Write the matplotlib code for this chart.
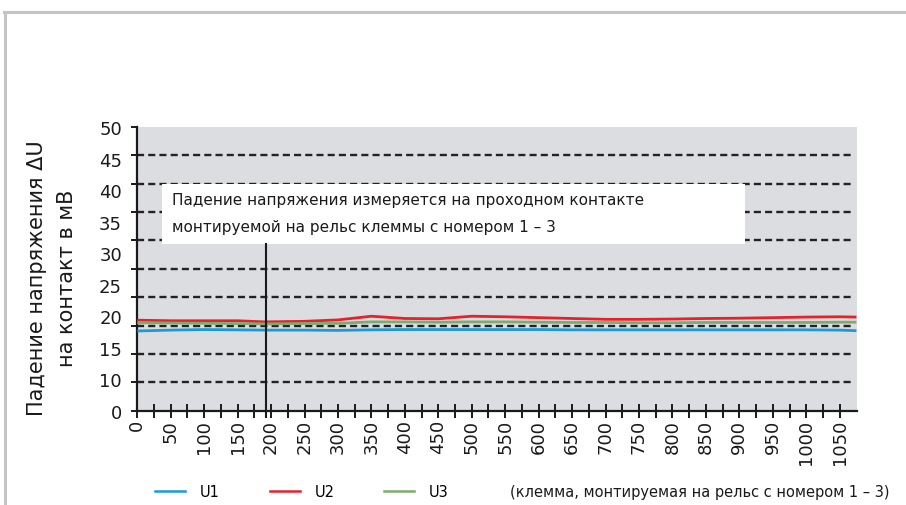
import matplotlib
matplotlib.use("Agg")
import matplotlib.pyplot as plt
from matplotlib.lines import Line2D
from matplotlib.patches import Rectangle

plt.rcParams["font.family"] = ["DejaVu Sans"]

# measured voltage drop per contact, mV (position along the rail)
positions = [0, 50, 100, 150, 190, 250, 300, 350, 400, 450, 500, 550,
             600, 650, 700, 750, 800, 850, 900, 950, 1000, 1050, 1075]
u1 = [14.05, 14.2, 14.3, 14.25, 14.2, 14.2, 14.15, 14.25, 14.3, 14.3, 14.3, 14.3,
      14.3, 14.25, 14.25, 14.25, 14.25, 14.25, 14.25, 14.25, 14.25, 14.2, 14.1]
u2 = [15.95, 15.85, 15.85, 15.85, 15.65, 15.75, 16.0, 16.65, 16.25, 16.2, 16.65, 16.55,
      16.4, 16.25, 16.1, 16.1, 16.15, 16.25, 16.3, 16.4, 16.5, 16.55, 16.5]
u3 = [15.5, 15.45, 15.4, 15.35, 15.3, 15.35, 15.4, 15.65, 15.65, 15.6, 15.65, 15.65,
      15.6, 15.55, 15.55, 15.5, 15.5, 15.55, 15.55, 15.55, 15.55, 15.6, 15.6]

series_names = ["U1", "U2", "U3"]
series_colors = ["#1a9bd7", "#e8202a", "#7dab6f"]

x_labels = list(range(0, 1051, 50))
y_labels = ["0", "10", "15", "20", "25", "30", "35", "40", "45", "50"]

note_lines = ["Падение напряжения измеряется на проходном контакте",
              "монтируемой на рельс клеммы с номером 1 – 3"]
marker_x = 192

fig = plt.figure(figsize=(9.06, 5.06), dpi=100)
ax = fig.add_axes([0.1515, 0.1864, 0.7945, 0.5606])
ax.set_facecolor("#dcdde0")

ax.set_xlim(0, 1076)
ax.set_ylim(0, 50)
ax.xaxis.remove_overlapping_locs = False
ax.yaxis.remove_overlapping_locs = False

for s in ["top", "right"]:
    ax.spines[s].set_visible(False)
for s in ["left", "bottom"]:
    ax.spines[s].set_linewidth(1.6)
    ax.spines[s].set_color("#1a1a1a")

# dashed grid every 5 units
for g in range(5, 50, 5):
    ax.plot([0, 1072], [g, g], color="#222222", lw=1.7, ls=(0, (3.0, 1.75)), zorder=1)

ax.set_yticks(range(0, 51, 5))
ax.set_yticklabels([])
ax.tick_params(axis="y", which="major", direction="out", length=4.5, width=1.4, color="#1a1a1a")
ax.set_yticks([k * 50 / 9 for k in range(10)], labels=y_labels, minor=True)
ax.tick_params(axis="y", which="minor", length=0, pad=11, labelsize=13, labelcolor="#1a1a1a")

ax.set_xticks(range(0, 1051, 25))
ax.set_xticklabels([])
ax.tick_params(axis="x", which="major", direction="inout", length=9.5, width=1.4, color="#1a1a1a")
ax.set_xticks(x_labels, labels=[str(v) for v in x_labels], minor=True)
ax.tick_params(axis="x", which="minor", length=0, pad=6, labelsize=13, labelrotation=90,
               labelcolor="#1a1a1a")

for vals, name, col in zip([u1, u2, u3], series_names, series_colors):
    ax.plot(positions, vals, color=col, lw=2.0, label=name, zorder=3, solid_capstyle="butt")

# note box with its pointer line
ax.add_patch(Rectangle((37, 29.4), 871, 10.6, facecolor="white", edgecolor="none", zorder=4))
ax.plot([marker_x, marker_x], [-1.2, 29.4], color="#1a1a1a", lw=1.5, zorder=5, clip_on=False)
ax.text(52, 37.3, note_lines[0], fontsize=11, va="center", ha="left", zorder=6, color="#1a1a1a")
ax.text(52, 32.5, note_lines[1], fontsize=11, va="center", ha="left", zorder=6, color="#1a1a1a")

fig.text(52 / 906, 1 - 278 / 506, "Падение напряжения ΔU\nна контакт в мВ",
         rotation=90, ha="center", va="center", multialignment="center",
         fontsize=15, linespacing=1.6, color="#1a1a1a")

handles = [Line2D([], [], color=c, lw=1.8) for c in series_colors]
fig.legend(handles, series_names, loc="center left", bbox_to_anchor=(155 / 906, 13 / 506),
           ncol=3, frameon=False, fontsize=10.5, handlelength=2.06, handletextpad=1.03,
           columnspacing=3.4, borderpad=0, borderaxespad=0)
fig.text(510 / 906, 13 / 506, "(клемма, монтируемая на рельс с номером 1 – 3)",
         ha="left", va="center", fontsize=10.5, color="#1a1a1a")

# light frame along the top and left edges
fig.add_artist(Line2D([4 / 906, 1], [1 - 13 / 506, 1 - 13 / 506], color="#c4c4c6", lw=2.2))
fig.add_artist(Line2D([5 / 906, 5 / 906], [0, 1 - 13 / 506], color="#c4c4c6", lw=2.2))

fig.savefig("out.png", dpi=100)
